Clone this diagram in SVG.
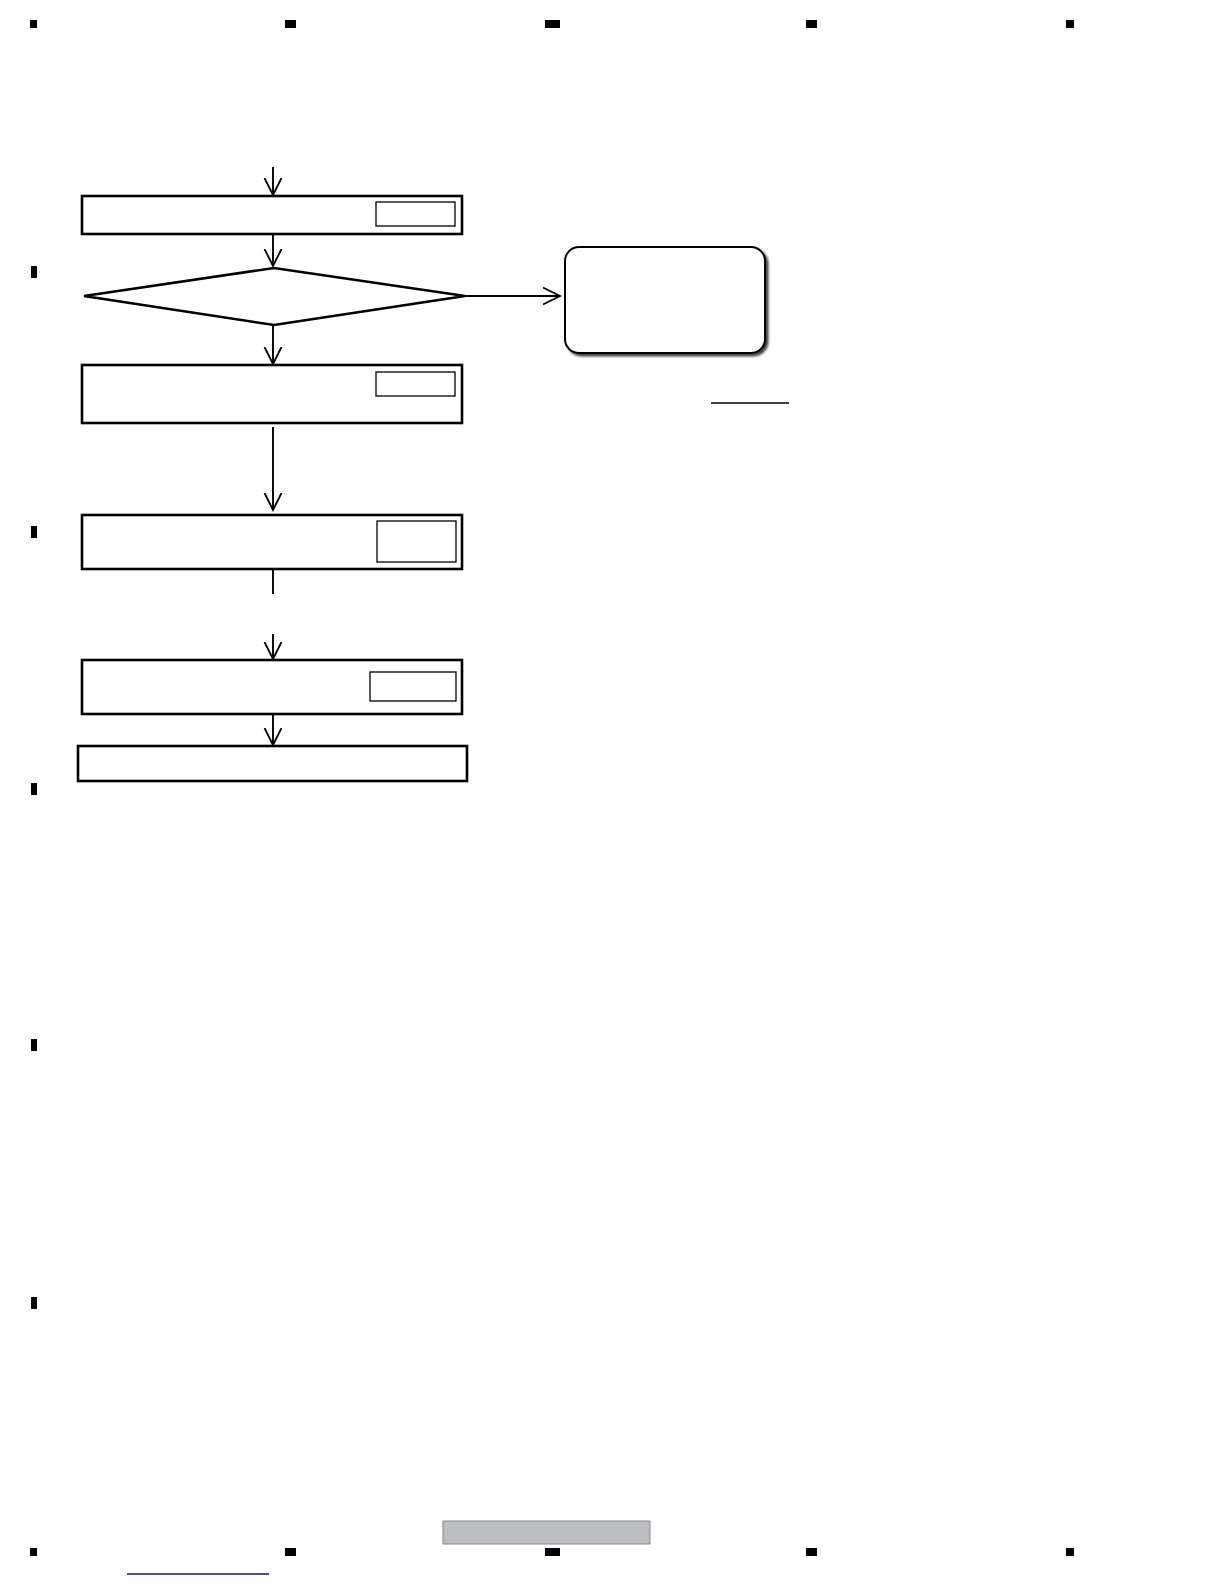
<svg xmlns="http://www.w3.org/2000/svg" width="1224" height="1584" viewBox="0 0 1224 1584">
<style>
.box{fill:#fff;stroke:#000;stroke-width:2.6}
.inner{fill:#fff;stroke:#000;stroke-width:1.3}
.conn{fill:none;stroke:#000;stroke-width:1.9}
.mk{fill:#000}
</style>
<defs>
<marker id="arr" viewBox="0 0 20 20" refX="17" refY="10" markerWidth="20" markerHeight="20" markerUnits="userSpaceOnUse" orient="auto">
<path d="M0,1.5 L17,10 L0,18.5" fill="none" stroke="#000" stroke-width="1.8"/>
</marker>
<filter id="sh" x="-10%" y="-10%" width="130%" height="130%">
<feDropShadow dx="2.5" dy="2.5" stdDeviation="0.8" flood-color="#000" flood-opacity="0.75"/>
</filter>
</defs>
<rect width="1224" height="1584" fill="#fff"/>
<g id="frame">
<rect class="mk" x="30" y="20" width="7" height="8"/>
<rect class="mk" x="285" y="20" width="11" height="8"/>
<rect class="mk" x="545" y="20" width="15" height="8"/>
<rect class="mk" x="806" y="20" width="11" height="8"/>
<rect class="mk" x="1066" y="20" width="8" height="8"/>
<rect class="mk" x="30" y="1548" width="7" height="8"/>
<rect class="mk" x="285" y="1548" width="11" height="8"/>
<rect class="mk" x="545" y="1548" width="15" height="8"/>
<rect class="mk" x="806" y="1548" width="11" height="8"/>
<rect class="mk" x="1066" y="1548" width="8" height="8"/>
<rect class="mk" x="31" y="266" width="6" height="12"/>
<rect class="mk" x="31" y="526" width="6" height="12"/>
<rect class="mk" x="31" y="783" width="6" height="12"/>
<rect class="mk" x="31" y="1039" width="6" height="12"/>
<rect class="mk" x="31" y="1297" width="6" height="12"/>
<rect x="443" y="1521" width="207" height="23" fill="#bcbdc1" stroke="#888" stroke-width="1"/>
<line x1="127" y1="1574" x2="269" y2="1574" stroke="#101080" stroke-width="1.6"/>
<line x1="711" y1="403" x2="789" y2="403" stroke="#000" stroke-width="1.3"/>
</g>
<g id="connectors">
<line class="conn" x1="273" y1="167" x2="273" y2="195" marker-end="url(#arr)"/>
<line class="conn" x1="273" y1="234" x2="273" y2="266" marker-end="url(#arr)"/>
<line class="conn" x1="465" y1="296" x2="560" y2="296" marker-end="url(#arr)"/>
<line class="conn" x1="273" y1="325" x2="273" y2="364" marker-end="url(#arr)"/>
<line class="conn" x1="273" y1="427" x2="273" y2="510" marker-end="url(#arr)"/>
<line class="conn" x1="273" y1="569" x2="273" y2="594"/>
<line class="conn" x1="273" y1="634" x2="273" y2="659" marker-end="url(#arr)"/>
<line class="conn" x1="273" y1="714" x2="273" y2="745" marker-end="url(#arr)"/>
</g>
<g id="n1"><rect class="box" x="82" y="196" width="380" height="38"/><rect class="inner" x="376" y="202" width="79" height="24"/></g>
<g id="n2"><polygon class="box" points="84,296 274,268 465,296 274,325"/></g>
<g id="n3"><rect x="565" y="247" width="200" height="106" rx="14" ry="14" fill="#fff" stroke="#000" stroke-width="2" filter="url(#sh)"/></g>
<g id="n4"><rect class="box" x="82" y="365" width="380" height="58"/><rect class="inner" x="376" y="372" width="79" height="24"/></g>
<g id="n5"><rect class="box" x="82" y="515" width="380" height="54"/><rect class="inner" x="377" y="521" width="79" height="41"/></g>
<g id="n6"><rect class="box" x="82" y="660" width="380" height="54"/><rect class="inner" x="370" y="672" width="86" height="29"/></g>
<g id="n7"><rect class="box" x="78" y="746" width="389" height="35"/></g>
</svg>
